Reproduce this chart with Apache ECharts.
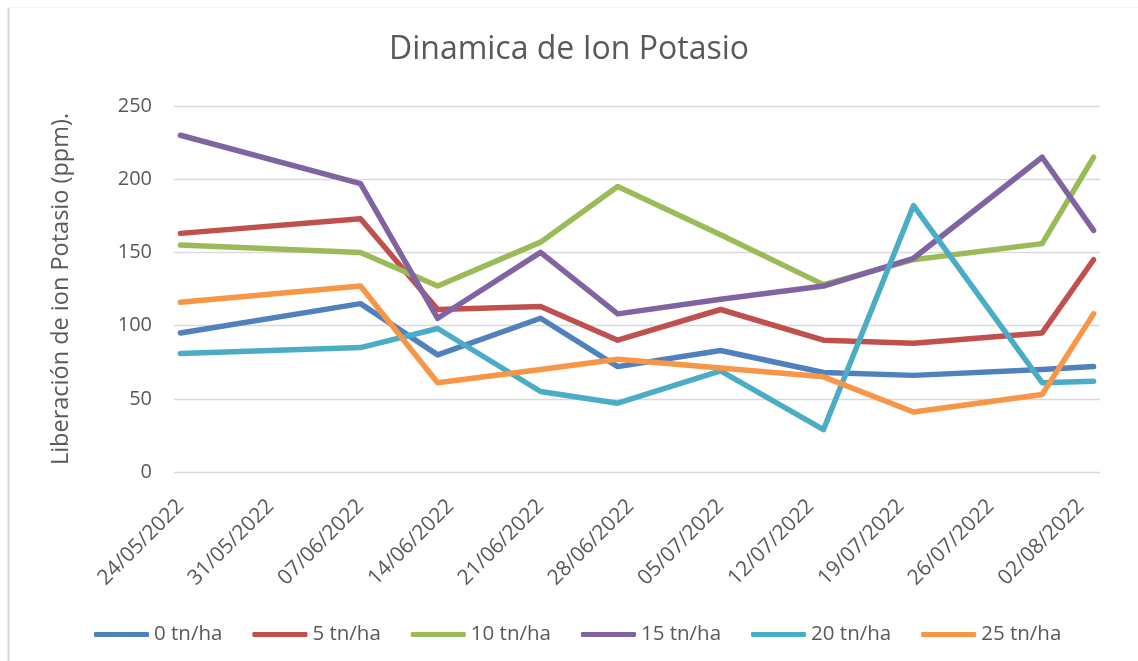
<!DOCTYPE html>
<html>
<head>
<meta charset="utf-8">
<title>Dinamica de Ion Potasio</title>
<script src="https://cdn.jsdelivr.net/npm/echarts@6.0.0/dist/echarts.min.js"></script>
<style>
    html, body { margin: 0; padding: 0; background: #fff; }
    #chart { width: 1138px; height: 661px; }
</style>
</head>
<body>
<div id="chart"></div>
<script>
// fechas de muestreo
var dates = ['24/05/2022', '07/06/2022', '13/06/2022', '21/06/2022', '27/06/2022',
             '05/07/2022', '13/07/2022', '20/07/2022', '30/07/2022', '03/08/2022'];
// etiquetas del eje x (semanales)
var tickLabels = ['24/05/2022', '31/05/2022', '07/06/2022', '14/06/2022', '21/06/2022', '28/06/2022',
                  '05/07/2022', '12/07/2022', '19/07/2022', '26/07/2022', '02/08/2022'];
var seriesNames = ['0 tn/ha', '5 tn/ha', '10 tn/ha', '15 tn/ha', '20 tn/ha', '25 tn/ha'];
var t0   = [95, 115, 80, 105, 72, 83, 68, 66, 70, 72];
var t5   = [163, 173, 111, 113, 90, 111, 90, 88, 95, 145];
var t10  = [155, 150, 127, 157, 195, 162, 128, 145, 156, 215];
var t15  = [230, 197, 105, 150, 108, 118, 127, 146, 215, 165];
var t20  = [81, 85, 98, 55, 47, 69, 29, 182, 61, 62];
var t25  = [116, 127, 61, 70, 77, 71, 65, 41, 53, 108];
var colors = ['#4F81BD', '#C0504D', '#9BBB59', '#8064A2', '#4BACC6', '#F79646'];

// dias desde la primera fecha
function dayOf(s) {
    var p = s.split('/');
    return Math.round((Date.UTC(+p[2], +p[1] - 1, +p[0]) - Date.UTC(2022, 4, 24)) / 86400000);
}
var labelByDay = {};
tickLabels.forEach(function (l) { labelByDay[dayOf(l)] = l; });

function makeSeries(name, vals) {
    return {
        name: name,
        type: 'line',
        symbol: 'none',
        lineStyle: { width: 5.5, cap: 'round', join: 'round' },
        data: vals.map(function (v, i) { return [dayOf(dates[i]), v]; })
    };
}

var echart = echarts.init(document.getElementById('chart'));
var textColor = '#595959';
var font = '"Open Sans", sans-serif';
var option = {
    color: colors,
    animation: false,
    title: {
        text: 'Dinamica de Ion Potasio',
        left: 'center',
        top: 34,
        padding: 0,
        textStyle: { color: textColor, fontSize: 32, fontWeight: 'normal', fontFamily: font }
    },
    legend: {
        left: 94,
        top: 624,
        padding: 0,
        icon: 'roundRect',
        itemWidth: 55,
        itemHeight: 5,
        itemGap: 30,
        textStyle: { color: textColor, fontSize: 20.5, fontFamily: font },
        data: seriesNames
    },
    grid: { left: 174, right: 38, top: 106, bottom: 189 },
    xAxis: {
        type: 'value',
        min: dayOf(dates[0]) - 0.5,
        max: dayOf(dates[dates.length - 1]) + 0.5,
        axisLine: { show: false },
        axisTick: { show: false },
        splitLine: { show: false },
        axisLabel: {
            customValues: tickLabels.map(dayOf),
            rotate: 45,
            margin: 31,
            color: textColor,
            fontSize: 21,
            fontFamily: font,
            formatter: function (v) { return labelByDay[v] || ''; }
        }
    },
    yAxis: {
        type: 'value',
        min: 0,
        max: 250,
        interval: 50,
        name: 'Liberación de ion Potasio (ppm).',
        nameLocation: 'middle',
        nameGap: 101,
        nameTextStyle: { color: textColor, fontSize: 23.5, fontFamily: font },
        axisLine: { show: false },
        axisTick: { show: false },
        axisLabel: { color: textColor, fontSize: 20, fontFamily: font, margin: 22 },
        splitLine: { lineStyle: { color: '#d9d9d9', width: 1.3 } }
    },
    graphic: [
        { type: 'line', shape: { x1: 8.5, y1: 7, x2: 8.5, y2: 661 }, style: { stroke: '#d9d9d9', lineWidth: 2 } },
        { type: 'line', shape: { x1: 8, y1: 7.5, x2: 1138, y2: 7.5 }, style: { stroke: '#f4f4f4', lineWidth: 1 } }
    ],
    series: [
        makeSeries(seriesNames[0], t0),
        makeSeries(seriesNames[1], t5),
        makeSeries(seriesNames[2], t10),
        makeSeries(seriesNames[3], t15),
        makeSeries(seriesNames[4], t20),
        makeSeries(seriesNames[5], t25)
    ]
};
echart.setOption(option);
</script>
</body>
</html>
